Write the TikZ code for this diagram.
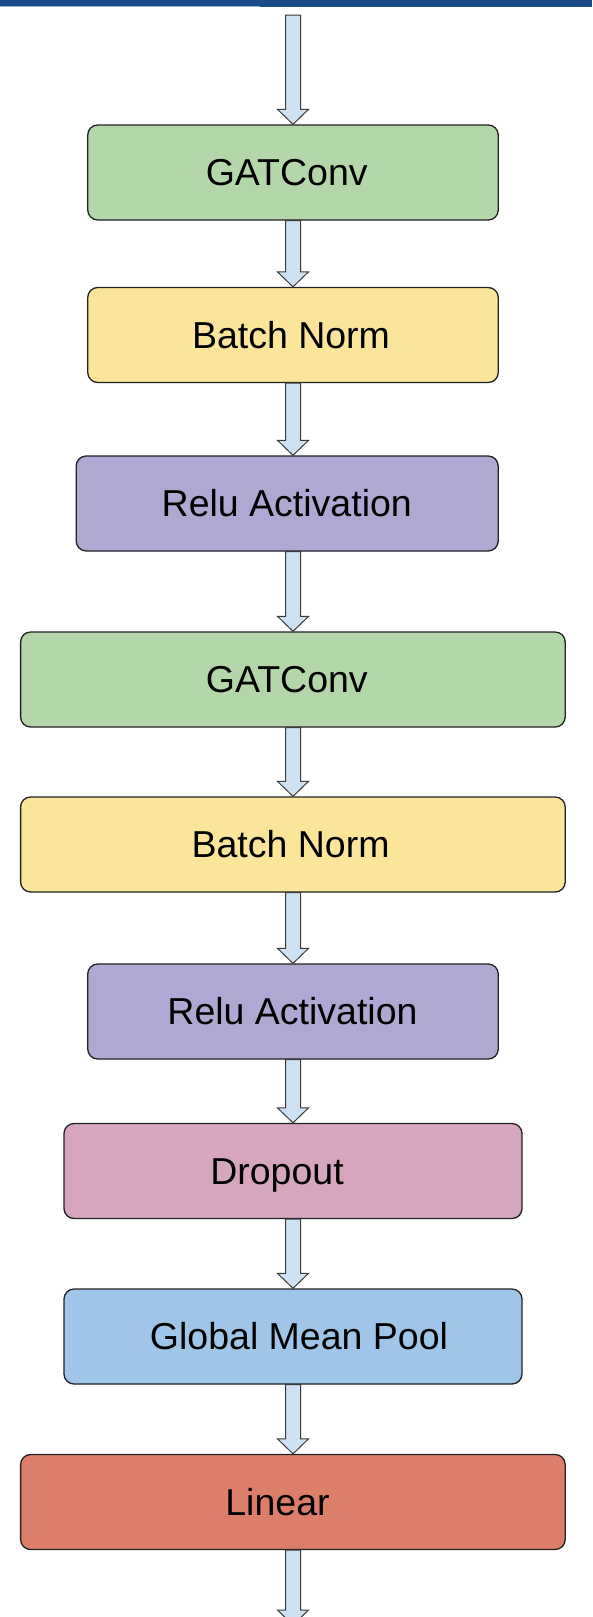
\documentclass[tikz,border=0pt]{standalone}
\usepackage{fontspec}
\setmainfont{Liberation Sans}
\usetikzlibrary{calc}

\definecolor{barblue}{HTML}{1A4A8A}
\definecolor{barlight}{HTML}{9AB0CC}
\definecolor{boxline}{HTML}{222222}
\definecolor{arrowline}{HTML}{3A3A3A}
\definecolor{arrowfill}{HTML}{CFE2F3}
\definecolor{convgreen}{HTML}{B4D7AA}
\definecolor{normyellow}{HTML}{FAE59B}
\definecolor{relupurple}{HTML}{B0A7D3}
\definecolor{dropmagenta}{HTML}{D5A6BD}
\definecolor{poolblue}{HTML}{9FC5E8}
\definecolor{linred}{HTML}{DD7E6B}

% block arrow from the lower edge of one stage to the upper edge of the next
\newcommand\flowarrow[2]{%
  \draw[arrowbody]
    ($(axis |- #1)+(-7.5,0)$) -- ($(axis |- #2)+(-7.5,-15)$)
    -- ($(axis |- #2)+(-15.5,-15)$) -- (axis |- #2)
    -- ($(axis |- #2)+(15.5,-15)$) -- ($(axis |- #2)+(7.5,-15)$)
    -- ($(axis |- #1)+(7.5,0)$) -- cycle;}

\begin{document}
\begin{tikzpicture}[x=1pt,y=-1pt,
  stage/.style={draw=boxline, line width=1.3pt, rounded corners=10pt,
    rectangle, inner sep=0pt, minimum height=95pt},
  lbl/.style={anchor=base, inner sep=0pt, font=\fontsize{37.5}{42}\selectfont},
  arrowbody/.style={draw=arrowline, line width=1pt, fill=arrowfill, line join=miter}]

\clip (0,0) rectangle (592,1617);
\fill[white] (0,0) rectangle (592,1617);

% header strip
\fill[barblue] (0,0) rectangle (260,5.5);
\fill[barlight] (0,5.5) rectangle (260,7);
\fill[barblue] (260,0) rectangle (592,7.3);

\coordinate (axis) at (293,0);
\coordinate (in) at (293,15);
\coordinate (out) at (293,1625);

% stages
\node[stage, fill=convgreen,   minimum width=410.5pt] (gat1)  at (293,172.5)  {};
\node[stage, fill=normyellow,  minimum width=410.5pt] (bn1)   at (293,335)    {};
\node[stage, fill=relupurple,  minimum width=422pt]   (relu1) at (287.2,503.5) {};
\node[stage, fill=convgreen,   minimum width=544.6pt] (gat2)  at (292.9,679.5) {};
\node[stage, fill=normyellow,  minimum width=544.6pt] (bn2)   at (292.9,844.5) {};
\node[stage, fill=relupurple,  minimum width=410.5pt] (relu2) at (293,1011.5) {};
\node[stage, fill=dropmagenta, minimum width=458pt]   (drop)  at (293,1171)   {};
\node[stage, fill=poolblue,    minimum width=458pt]   (pool)  at (293,1336.5) {};
\node[stage, fill=linred,      minimum width=544.6pt] (lin)   at (292.9,1502) {};

% stage labels
\node[lbl] (gat1-t)  at ($(gat1.center)+(-6.3,13.4)$)  {GATConv};
\node[lbl] (bn1-t)   at ($(bn1.center)+(-2,13.4)$)     {Batch Norm};
\node[lbl] (relu1-t) at ($(relu1.center)+(-0.4,13.4)$) {Relu Activation};
\node[lbl] (gat2-t)  at ($(gat2.center)+(-6.1,13.4)$)  {GATConv};
\node[lbl] (bn2-t)   at ($(bn2.center)+(-2.3,13.4)$)   {Batch Norm};
\node[lbl] (relu2-t) at ($(relu2.center)+(-0.5,13.4)$) {Relu Activation};
\node[lbl] (drop-t)  at ($(drop.center)+(-16,13.4)$)   {Dropout};
\node[lbl] (pool-t)  at ($(pool.center)+(6,13.4)$)     {Global Mean Pool};
\node[lbl] (lin-t)   at ($(lin.center)+(-15.4,13.4)$)  {Linear};

% connectors
\flowarrow{in}{gat1.north}
\flowarrow{gat1.south}{bn1.north}
\flowarrow{bn1.south}{relu1.north}
\flowarrow{relu1.south}{gat2.north}
\flowarrow{gat2.south}{bn2.north}
\flowarrow{bn2.south}{relu2.north}
\flowarrow{relu2.south}{drop.north}
\flowarrow{drop.south}{pool.north}
\flowarrow{pool.south}{lin.north}
\flowarrow{lin.south}{out}

\end{tikzpicture}
\end{document}
